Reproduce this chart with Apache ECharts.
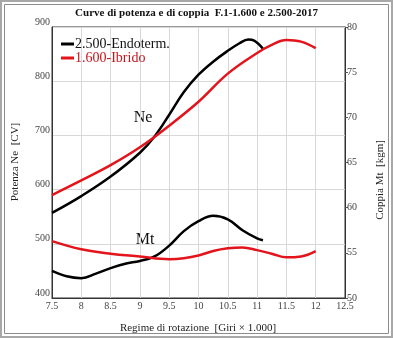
<!DOCTYPE html>
<html>
<head>
<meta charset="utf-8">
<script src="https://cdn.jsdelivr.net/npm/echarts@6/dist/echarts.min.js"></script>
<style>
  html, body { margin: 0; padding: 0; background: #fff; }
  #chart { width: 393px; height: 338px; }
</style>
</head>
<body>
<div id="chart"></div>
<script>
// Engine speed [rpm x 1000] and measured curves
const rpmEndoNe = [7.5, 8.0, 8.5, 9.0, 9.25, 9.5, 9.75, 10.0, 10.25, 10.5, 10.7, 10.85, 10.95, 11.1];
const neEndo    = [557, 588, 624, 668, 698, 738, 780, 812, 836, 856, 870, 877, 875, 860];
const rpmEndoMt = [7.5, 7.75, 8.0, 8.25, 8.5, 8.75, 9.0, 9.25, 9.5, 9.75, 10.0, 10.25, 10.5, 10.75, 11.0, 11.1];
const mtEndo    = [53.0, 52.4, 52.2, 52.7, 53.3, 53.8, 54.1, 54.6, 55.8, 57.4, 58.5, 59.1, 58.7, 57.5, 56.6, 56.4];

const rpmIbridoNe = [7.5, 8.0, 8.5, 9.0, 9.5, 10.0, 10.5, 11.0, 11.25, 11.5, 11.75, 12.0];
const neIbrido    = [590, 617, 645, 678, 718, 762, 814, 852, 867, 876, 873, 861];
const rpmIbridoMt = [7.5, 8.0, 8.5, 9.0, 9.5, 9.75, 10.0, 10.25, 10.5, 10.75, 11.0, 11.25, 11.5, 11.75, 12.0];
const mtIbrido    = [56.3, 55.4, 54.9, 54.6, 54.3, 54.4, 54.7, 55.2, 55.5, 55.6, 55.3, 54.9, 54.5, 54.6, 55.2];

const nameEndo = '2.500-Endoterm.';
const nameIbrido = '1.600-Ibrido';

const pairs = (xs, ys) => xs.map((x, i) => [x, ys[i]]);

const serif = '"Liberation Serif", "DejaVu Serif", serif';
const tickText = { fontFamily: serif, fontSize: 10, color: '#444' };

const chart = echarts.init(document.getElementById('chart'));
chart.setOption({
  animation: false,
  backgroundColor: '#fff',
  grid: { left: 52, right: 48, top: 27, bottom: 40, show: true, borderColor: '#333', borderWidth: 1 },
  legend: {
    left: 56, top: 32, orient: 'vertical', itemGap: 0,
    icon: 'rect', itemWidth: 13, itemHeight: 3,
    textStyle: { fontFamily: serif, fontSize: 14, padding: [0, 0, 0, -4] },
    data: [
      { name: nameEndo, textStyle: { color: '#111' } },
      { name: nameIbrido, textStyle: { color: '#c8141b' } }
    ]
  },
  xAxis: {
    type: 'value', min: 7.5, max: 12.5, interval: 0.5,
    axisLine: { lineStyle: { color: '#333' } },
    axisTick: { show: false },
    axisLabel: Object.assign({ margin: 3 }, tickText),
    splitLine: { lineStyle: { color: '#d8d8d8' } }
  },
  yAxis: [
    {
      type: 'value', min: 400, max: 900, interval: 100,
      axisLine: { show: true, lineStyle: { color: '#333' } },
      axisTick: { show: false },
      axisLabel: Object.assign({ margin: 2, verticalAlign: 'bottom' }, tickText),
      splitLine: { lineStyle: { color: '#d8d8d8' } }
    },
    {
      type: 'value', min: 50, max: 80, interval: 5, position: 'right',
      axisLine: { show: true, lineStyle: { color: '#333' } },
      axisTick: { show: true, inside: false, length: 3, lineStyle: { color: '#555' } },
      axisLabel: Object.assign({ margin: 2 }, tickText),
      splitLine: { show: false }
    }
  ],
  series: [
    { name: nameEndo, type: 'line', yAxisIndex: 0, data: pairs(rpmEndoNe, neEndo),
      smooth: 0.4, symbol: 'none', lineStyle: { color: '#000', width: 2.5 }, itemStyle: { color: '#000' } },
    { name: nameIbrido, type: 'line', yAxisIndex: 0, data: pairs(rpmIbridoNe, neIbrido),
      smooth: 0.4, symbol: 'none', lineStyle: { color: '#e3141b', width: 2.5 }, itemStyle: { color: '#e3141b' } },
    { name: nameEndo, type: 'line', yAxisIndex: 1, data: pairs(rpmEndoMt, mtEndo),
      smooth: 0.4, symbol: 'none', lineStyle: { color: '#000', width: 2.5 }, itemStyle: { color: '#000' } },
    { name: nameIbrido, type: 'line', yAxisIndex: 1, data: pairs(rpmIbridoMt, mtIbrido),
      smooth: 0.4, symbol: 'none', lineStyle: { color: '#e3141b', width: 2.5 }, itemStyle: { color: '#e3141b' } }
  ],
  graphic: [
    { type: 'rect', silent: true, shape: { x: 1, y: 1, width: 391, height: 336 },
      style: { fill: 'none', stroke: '#a8a8a8', lineWidth: 2 } },
    { type: 'rect', silent: true, shape: { x: 4.5, y: 4.5, width: 384, height: 329 },
      style: { fill: 'none', stroke: '#8c8c8c', lineWidth: 1 } },
    { type: 'text', left: 'center', top: 8,
      style: { text: 'Curve di potenza e di coppia  F.1-1.600 e 2.500-2017', fontFamily: serif,
               fontSize: 11, fontWeight: 'bold', fill: '#111' } },
    { type: 'text', x: 15, y: 162, rotation: Math.PI / 2,
      style: { text: 'Potenza Ne  [CV]', fontFamily: serif, fontSize: 11, fill: '#222',
               align: 'center', verticalAlign: 'middle' } },
    { type: 'text', x: 380, y: 180, rotation: Math.PI / 2,
      style: { text: 'Coppia Mt  [kgm]', fontFamily: serif, fontSize: 11, fill: '#222',
               align: 'center', verticalAlign: 'middle' } },
    { type: 'text', x: 198, y: 328,
      style: { text: 'Regime di rotazione  [Giri × 1.000]', fontFamily: serif, fontSize: 11, fill: '#222',
               align: 'center', verticalAlign: 'middle' } },
    { type: 'text', x: 143, y: 118,
      style: { text: 'Ne', fontFamily: serif, fontSize: 16, fill: '#111', align: 'center', verticalAlign: 'middle' } },
    { type: 'text', x: 145, y: 240,
      style: { text: 'Mt', fontFamily: serif, fontSize: 16, fill: '#111', align: 'center', verticalAlign: 'middle' } }
  ]
});
</script>
</body>
</html>
